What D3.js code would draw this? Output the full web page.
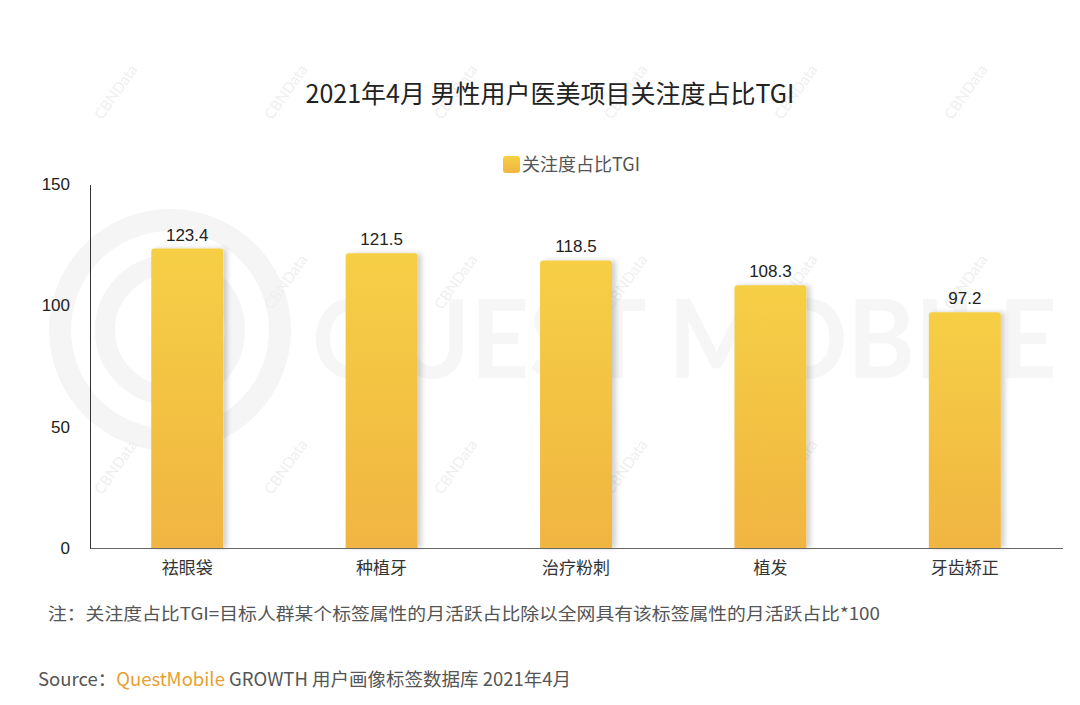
<!DOCTYPE html>
<html>
<head>
<meta charset="utf-8">
<title>2021年4月 男性用户医美项目关注度占比TGI</title>
<script src="https://cdn.jsdelivr.net/npm/d3@7"></script>
<style>
  html, body { margin: 0; background: #fff; }
  body { font-family: "Noto Sans CJK SC", "Noto Sans", sans-serif; }
  .axis path, .axis line { shape-rendering: crispEdges; }
</style>
</head>
<body>
<svg width="1080" height="705"></svg>
<script>
var categories = ["祛眼袋", "种植牙", "治疗粉刺", "植发", "牙齿矫正"];
var tgiValues = [123.4, 121.5, 118.5, 108.3, 97.2];
var yTicks = [0, 50, 100, 150];

var svg = d3.select("svg"),
    margin = {top: 184, right: 20, bottom: 157, left: 90},
    width = 1062 - margin.left,
    height = 548 - margin.top;

var defs = svg.append("defs");
var grad = defs.append("linearGradient").attr("id", "barGrad")
    .attr("x1", 0).attr("y1", 0).attr("x2", 0).attr("y2", 1);
grad.append("stop").attr("offset", "0%").attr("stop-color", "#f6cf45");
grad.append("stop").attr("offset", "100%").attr("stop-color", "#f0b542");

var shadow = defs.append("filter").attr("id", "shadow")
    .attr("x", "-20%").attr("y", "-10%").attr("width", "150%").attr("height", "120%");
shadow.append("feDropShadow").attr("dx", 4).attr("dy", 0).attr("stdDeviation", 2.5)
    .attr("flood-color", "#000").attr("flood-opacity", 0.18);

// faint watermark (logo rings + wordmark + CBNData stamps)
var wm = svg.append("g").attr("fill", "none").attr("stroke", "#f5f5f5");
wm.append("circle").attr("cx", 170).attr("cy", 330).attr("r", 110).attr("stroke-width", 22);
wm.append("circle").attr("cx", 170).attr("cy", 330).attr("r", 65).attr("stroke-width", 20);
svg.append("text").attr("x", 312).attr("y", 378)
    .attr("fill", "#f6f6f6").style("font-family", "Lato, sans-serif")
    .style("font-size", "110px").style("font-weight", "bold")
    .attr("textLength", 745).attr("lengthAdjust", "spacingAndGlyphs")
    .text("QUEST MOBILE");
var wmPos = [[120, 95], [290, 95], [460, 95], [630, 95], [800, 95], [970, 95],
             [290, 285], [460, 285], [630, 285], [800, 285], [970, 285],
             [120, 470], [290, 470], [460, 470], [630, 470], [800, 470], [970, 470]];
svg.selectAll(".wmt").data(wmPos).enter().append("text")
    .attr("class", "wmt")
    .attr("transform", function(d) { return "translate(" + d[0] + "," + d[1] + ") rotate(-55)"; })
    .attr("text-anchor", "middle")
    .attr("fill", "#efefef")
    .style("font-family", "Lato, sans-serif").style("font-size", "15px")
    .text("CBNData");

var g = svg.append("g").attr("transform", "translate(" + margin.left + "," + margin.top + ")");

var x = d3.scaleBand().domain(categories).range([0, width]).paddingInner(0.63).paddingOuter(0.315);
var y = d3.scaleLinear().domain([0, 150]).range([height, 0]);

// title
svg.append("text").attr("x", 550).attr("y", 103).attr("text-anchor", "middle")
    .attr("fill", "#222").style("font-size", "25px")
    .text("2021年4月 男性用户医美项目关注度占比TGI");

// legend
svg.append("rect").attr("x", 503).attr("y", 156).attr("width", 17).attr("height", 17)
    .attr("rx", 3).attr("fill", "url(#barGrad)");
svg.append("text").attr("x", 522).attr("y", 171).attr("fill", "#555")
    .style("font-size", "18px").text("关注度占比TGI");

// bars
g.selectAll(".bar").data(tgiValues).enter().append("path")
    .attr("class", "bar")
    .attr("fill", "url(#barGrad)")
    .attr("filter", "url(#shadow)")
    .attr("d", function(d, i) {
      var x0 = x(categories[i]), w = x.bandwidth(), y0 = y(d), r = 3;
      return "M" + x0 + "," + height + "V" + (y0 + r) + "Q" + x0 + "," + y0 + " " + (x0 + r) + "," + y0 +
             "H" + (x0 + w - r) + "Q" + (x0 + w) + "," + y0 + " " + (x0 + w) + "," + (y0 + r) + "V" + height + "Z";
    });

// value labels
g.selectAll(".val").data(tgiValues).enter().append("text")
    .attr("class", "val")
    .attr("x", function(d, i) { return x(categories[i]) + x.bandwidth() / 2; })
    .attr("y", function(d) { return y(d) - 8; })
    .attr("text-anchor", "middle").attr("fill", "#222")
    .style("font-family", "Liberation Sans, Arial, sans-serif").style("font-size", "17px")
    .text(function(d) { return d.toFixed(1); });

// axes
var yAxis = g.append("g").attr("class", "axis")
    .call(d3.axisLeft(y).tickValues(yTicks).tickSize(0).tickPadding(20));
yAxis.select(".domain").attr("stroke", "#333");
yAxis.selectAll("text").attr("fill", "#222")
    .style("font-family", "Liberation Sans, Arial, sans-serif").style("font-size", "17px");

var xAxis = g.append("g").attr("class", "axis").attr("transform", "translate(0," + height + ")")
    .call(d3.axisBottom(x).tickSize(0).tickPadding(14));
xAxis.select(".domain").attr("stroke", "#666");
xAxis.selectAll("text").attr("fill", "#333").style("font-size", "17px")
    .style("font-family", "Noto Sans CJK SC, sans-serif");

// note
svg.append("text").attr("x", 48).attr("y", 620).attr("fill", "#555").style("font-size", "17px")
    .attr("textLength", 832).attr("lengthAdjust", "spacingAndGlyphs")
    .text("注：关注度占比TGI=目标人群某个标签属性的月活跃占比除以全网具有该标签属性的月活跃占比*100");

// source
var src = svg.append("text").attr("x", 38).attr("y", 686).attr("fill", "#555").style("font-size", "18.5px");
src.append("tspan").text("Source：");
src.append("tspan").attr("fill", "#e8a030").text("QuestMobile");
src.append("tspan").text(" GROWTH 用户画像标签数据库 2021年4月");
</script>
</body>
</html>
